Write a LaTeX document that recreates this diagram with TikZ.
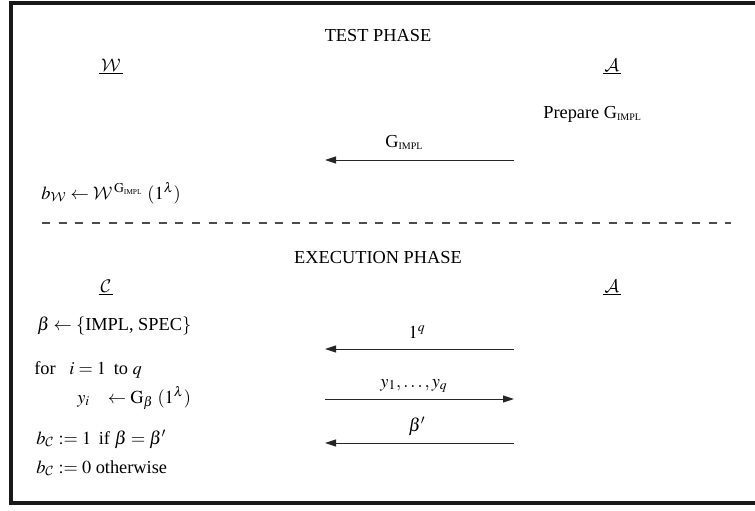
\documentclass[tikz,border=0pt]{standalone}
\usepackage{amsmath}
\usepackage{mathptmx}
\DeclareMathAlphabet{\mathcal}{OMS}{cmsy}{m}{n}
\usepackage{fontspec}
\setmainfont{Liberation Serif}
\usetikzlibrary{arrows.meta,positioning}
\newcommand{\ipl}{\mbox{\fontsize{6}{6}\selectfont IMPL}}
\newcommand{\ipls}{\mbox{\fontsize{4.5}{5}\selectfont IMPL}}
\tikzset{
  msg/.style={-{Triangle[length=6.6pt,width=4.2pt]},line width=0.6pt,black!85},
  lbl/.style={inner sep=0pt,anchor=base},
  txt/.style={inner sep=0pt,anchor=base west},
  party/.style={inner sep=0pt,anchor=base}
}

\begin{document}
\begin{tikzpicture}[x=0.6pt,y=-0.6pt,font=\fontsize{11}{13}\selectfont]
\useasboundingbox (0,0) rectangle (755,510);
% frame, open on the right
\draw[line width=2.4pt,black!90] (760,3) -- (11,3) -- (11,503) -- (760,503);

% test phase
\node[lbl] (tph) at (378,41) {TEST PHASE};
\node[party] (w) at (111,71) {$\underline{\,\mathcal{W}\,}$};
\node[party] (a1) at (612,71) {$\underline{\,\mathcal{A}\,}$};
\node[txt] (prep) at (543,118) {Prepare G$_{\ipl}$};
\coordinate (g1r) at (514,160);
\coordinate (g1l) at (325,160);
\draw[msg] (g1r) -- (g1l);
\node[txt] (gimpl) at (385,147) {G$_{\ipl}$};
\node[txt] (bw) at (41,199) {$b_{\mathcal{W}} \leftarrow \mathcal{W}^{\,\mathrm{G}_{\ipls}}\;(1^{\lambda})$};

% separator
\coordinate (sepl) at (42,223);
\coordinate (sepr) at (731,223);
\draw[line width=0.8pt,black!70,dash pattern=on 4.8pt off 5.2pt] (sepl) -- (sepr);

% execution phase
\node[lbl] (eph) at (378,263) {EXECUTION PHASE};
\node[party] (c) at (106,292) {$\underline{\,\mathcal{C}\,}$};
\node[party] (a2) at (612,292) {$\underline{\,\mathcal{A}\,}$};
\node[txt] (beta) at (37,330) {$\beta \leftarrow \{$IMPL, SPEC$\}$};
\node[txt] (loop) at (34,374) {for\ \ \ $i = 1$\, to $q$};
\node[txt] (gen) at (77,403) {$y_i\ \ \ \leftarrow \mathrm{G}_{\beta}\;(1^{\lambda})$};
\node[txt] (out1) at (36,444) {$b_{\mathcal{C}} := 1$\, if $\beta = \beta'$};
\node[txt] (out0) at (36,473) {$b_{\mathcal{C}} := 0$ otherwise};

\coordinate (m1r) at (514,349);
\coordinate (m1l) at (325,349);
\coordinate (m2l) at (325,399);
\coordinate (m2r) at (514,399);
\coordinate (m3r) at (514,443);
\coordinate (m3l) at (325,443);
\draw[msg] (m1r) -- (m1l);
\draw[msg] (m2l) -- (m2r);
\draw[msg] (m3r) -- (m3l);
\node[lbl] (q1) at (417,338) {$1^{q}$};
\node[lbl] (ys) at (414,387) {$y_1, \ldots, y_q$};
\node[lbl] (bp) at (417,431) {$\beta'$};
\end{tikzpicture}
\end{document}
